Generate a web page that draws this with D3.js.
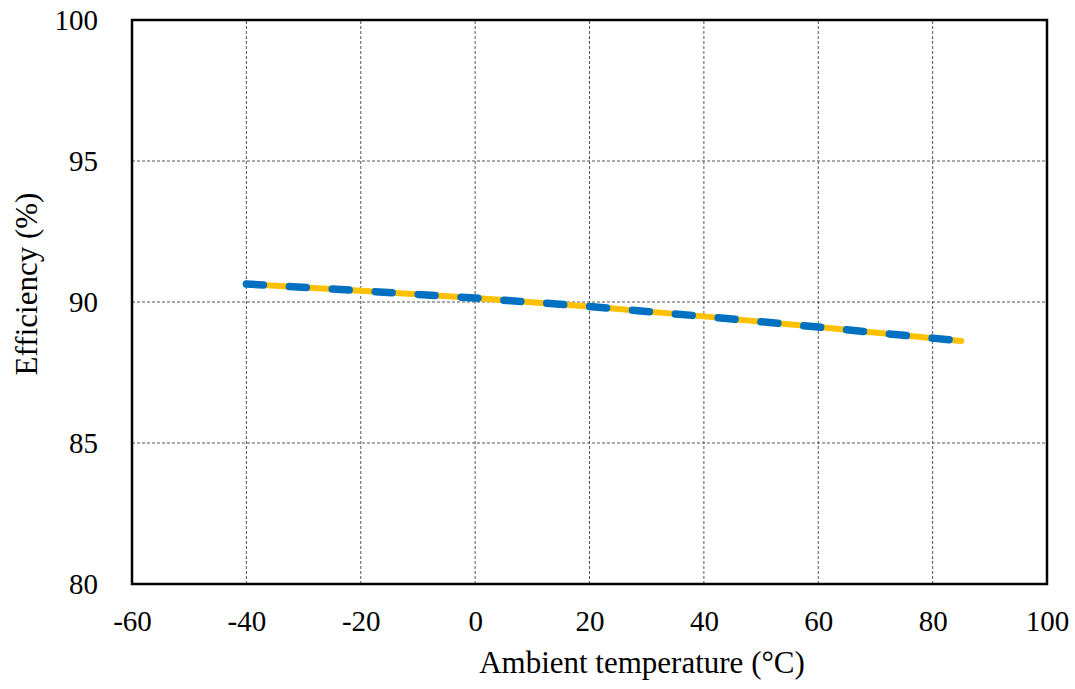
<!DOCTYPE html>
<html>
<head>
<meta charset="utf-8">
<script src="https://cdn.jsdelivr.net/npm/d3@7"></script>
<style>
  html, body { margin: 0; padding: 0; background: #fff; }
  svg { display: block; }
</style>
</head>
<body>
<svg id="chart" width="1075" height="689"></svg>
<script>
// Ambient temperature (°C) and measured efficiency (%)
const temperatures = [-40, -20, 0, 20, 40, 60, 85];
const efficiencyA = [90.64, 90.40, 90.14, 89.84, 89.49, 89.11, 88.62];
const efficiencyB = [90.64, 90.40, 90.14, 89.84, 89.49, 89.11, 88.62];
const xTicks = [-60, -40, -20, 0, 20, 40, 60, 80, 100];
const yTicks = [80, 85, 90, 95, 100];

const FONT = "'Liberation Serif', 'Times New Roman', serif";
const TICK_FS = 29;
const TITLE_FS = 31;

const svg = d3.select("#chart");
const W = 1075, H = 689;
const margin = { left: 132, top: 20, right: W - 1047, bottom: H - 584 };

const x = d3.scaleLinear().domain([-60, 100]).range([margin.left, W - margin.right]);
const y = d3.scaleLinear().domain([80, 100]).range([H - margin.bottom, margin.top]);

// gridlines
const grid = svg.append("g");
grid.selectAll(".vg").data(xTicks.slice(1, -1)).join("line")
  .attr("x1", d => x(d)).attr("x2", d => x(d))
  .attr("y1", y(80)).attr("y2", y(100))
  .attr("stroke", "#555").attr("stroke-width", 1).attr("stroke-dasharray", "3,2");
grid.selectAll(".hg").data(yTicks.slice(1, -1)).join("line")
  .attr("x1", x(-60)).attr("x2", x(100))
  .attr("y1", d => y(d)).attr("y2", d => y(d))
  .attr("stroke", "#555").attr("stroke-width", 1).attr("stroke-dasharray", "3,2");

// series
const line = d3.line().x(d => x(d[0])).y(d => y(d[1]));
svg.append("path")
  .datum(temperatures.map((t, i) => [t, efficiencyA[i]]))
  .attr("d", line).attr("fill", "none")
  .attr("stroke", "#FFC000").attr("stroke-width", 6)
  .attr("stroke-linecap", "round").attr("stroke-linejoin", "round");
svg.append("path")
  .datum(temperatures.map((t, i) => [t, efficiencyB[i]]))
  .attr("d", line).attr("fill", "none")
  .attr("stroke", "#0070C0").attr("stroke-width", 7.5)
  .attr("stroke-linecap", "round").attr("stroke-linejoin", "round")
  .attr("stroke-dasharray", "17,26");

// frame
svg.append("rect")
  .attr("x", x(-60)).attr("y", y(100))
  .attr("width", x(100) - x(-60)).attr("height", y(80) - y(100))
  .attr("fill", "none").attr("stroke", "#000").attr("stroke-width", 2.5);

// axes
const fmt = d => String(d);
const xAxis = svg.append("g").attr("transform", `translate(0,${y(80)})`)
  .call(d3.axisBottom(x).tickValues(xTicks).tickSize(0).tickPadding(26).tickFormat(fmt));
const yAxis = svg.append("g").attr("transform", `translate(${x(-60)},0)`)
  .call(d3.axisLeft(y).tickValues(yTicks).tickSize(0).tickPadding(34).tickFormat(fmt));
[xAxis, yAxis].forEach(g => {
  g.attr("font-family", null).attr("font-size", null);
  g.select(".domain").remove();
  g.selectAll("text").style("font-size", TICK_FS + "px")
    .style("font-family", FONT).attr("fill", "#000");
});
xAxis.selectAll("text").attr("dy", "0.71em");

// axis titles
svg.append("text")
  .attr("x", 642).attr("y", 673)
  .attr("text-anchor", "middle")
  .style("font-family", FONT).style("font-size", TITLE_FS + "px")
  .text("Ambient temperature (°C)");
svg.append("text")
  .attr("transform", `translate(37,284) rotate(-90)`)
  .attr("text-anchor", "middle")
  .style("font-family", FONT).style("font-size", TITLE_FS + "px")
  .text("Efficiency (%)");
</script>
</body>
</html>
